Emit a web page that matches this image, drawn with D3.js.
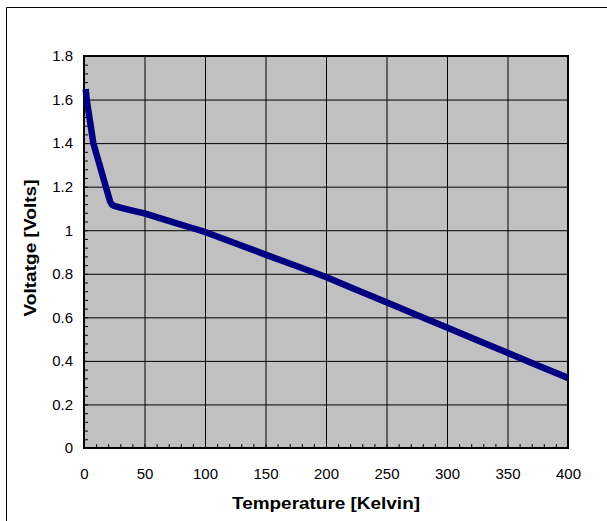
<!DOCTYPE html>
<html>
<head>
<meta charset="utf-8">
<script src="https://cdn.jsdelivr.net/npm/d3@7"></script>
<style>
  body { margin: 0; background: #fff; }
  svg text { font-family: "Liberation Sans", Arial, sans-serif; }
</style>
</head>
<body>
<div id="chart"></div>
<script>
var svgWidth = 607;
var svgHeight = 521;

var margin = { top: 56, right: 39, bottom: 73, left: 84 };

// Diode voltage
var temperature = [1.4, 2.2, 4, 6, 7.7, 10, 12, 14, 16, 18, 20, 21.5, 23, 25, 30, 40, 50, 60, 70, 80, 90, 100,
                   125, 150, 175, 200, 225, 250, 275, 300, 325, 350, 375, 400];
var voltage = [1.648, 1.6, 1.535, 1.462, 1.4, 1.355, 1.317, 1.278, 1.239, 1.2, 1.162, 1.133, 1.118, 1.112, 1.104, 1.09, 1.077, 1.06, 1.043, 1.026, 1.009, 0.992,
               0.94, 0.888, 0.837, 0.785, 0.727, 0.669, 0.611, 0.553, 0.495, 0.437, 0.379, 0.322];

var xTicks = [0, 50, 100, 150, 200, 250, 300, 350, 400];
var yTicks = [0, 0.2, 0.4, 0.6, 0.8, 1, 1.2, 1.4, 1.6, 1.8];

var width = svgWidth - margin.left - margin.right;
var height = svgHeight - margin.top - margin.bottom;

var svg = d3.select("#chart")
  .append("svg")
  .attr("width", svgWidth)
  .attr("height", svgHeight);

// outer chart frame (top and left edges visible)
svg.append("path")
  .attr("d", "M6.5,521 L6.5,7.5 L607,7.5")
  .attr("fill", "none")
  .attr("stroke", "#000")
  .attr("stroke-width", 1);

var chartGroup = svg.append("g")
  .attr("transform", `translate(${margin.left}, ${margin.top})`);

var xScale = d3.scaleLinear().domain([0, 400]).range([0, width]);
var yScale = d3.scaleLinear().domain([0, 1.8]).range([height, 0]);

chartGroup.append("rect")
  .attr("width", width)
  .attr("height", height)
  .attr("fill", "#c0c0c0");

// gridlines
chartGroup.append("g")
  .call(d3.axisBottom(xScale).tickValues(xTicks).tickSize(height).tickFormat(""))
  .call(g => g.select(".domain").remove())
  .call(g => g.selectAll("line").attr("stroke", "#000"));

chartGroup.append("g")
  .call(d3.axisLeft(yScale).tickValues(yTicks).tickSize(-width).tickFormat(""))
  .call(g => g.select(".domain").remove())
  .call(g => g.selectAll("line").attr("stroke", "#000"));

// minor ticks, pointing into the plot
chartGroup.append("g")
  .attr("transform", `translate(0, ${height})`)
  .call(d3.axisBottom(xScale).tickValues(d3.range(0, 401, 10)).tickSize(-4).tickFormat(""))
  .call(g => g.select(".domain").remove())
  .call(g => g.selectAll("line").attr("stroke", "#000"));

chartGroup.append("g")
  .call(d3.axisLeft(yScale).tickValues(d3.range(0, 1.801, 0.04)).tickSize(-4).tickFormat(""))
  .call(g => g.select(".domain").remove())
  .call(g => g.selectAll("line").attr("stroke", "#000"));

// plot frame
chartGroup.append("rect")
  .attr("width", width)
  .attr("height", height)
  .attr("fill", "none")
  .attr("stroke", "#000")
  .attr("stroke-width", 2);

// tick labels
chartGroup.append("g")
  .attr("transform", `translate(0, ${height})`)
  .call(d3.axisBottom(xScale).tickValues(xTicks).tickSize(0).tickPadding(20))
  .call(g => g.select(".domain").remove())
  .call(g => g.selectAll("text")
    .attr("font-family", "Liberation Sans, Arial, sans-serif")
    .attr("font-size", 15)
    .attr("fill", "#000"));

chartGroup.append("g")
  .call(d3.axisLeft(yScale).tickValues(yTicks).tickSize(0).tickPadding(11).tickFormat(d3.format("")))
  .call(g => g.select(".domain").remove())
  .call(g => g.selectAll("text")
    .attr("font-family", "Liberation Sans, Arial, sans-serif")
    .attr("font-size", 15)
    .attr("fill", "#000"));

// the curve
var points = temperature.map((t, i) => ({ t: t, v: voltage[i] }));

chartGroup.append("path")
  .datum(points)
  .attr("fill", "none")
  .attr("stroke", "#000080")
  .attr("stroke-width", 6.5)
  .attr("stroke-linejoin", "round")
  .attr("d", d3.line().x(d => xScale(d.t)).y(d => yScale(d.v)));

// axis titles
chartGroup.append("text")
  .attr("x", width / 2)
  .attr("y", height + 61)
  .attr("text-anchor", "middle")
  .attr("font-size", 17)
  .attr("font-weight", "bold")
  .attr("textLength", 188)
  .attr("lengthAdjust", "spacingAndGlyphs")
  .text("Temperature [Kelvin]");

chartGroup.append("text")
  .attr("transform", `translate(${-48.5}, ${192}) rotate(-90)`)
  .attr("text-anchor", "middle")
  .attr("font-size", 17)
  .attr("font-weight", "bold")
  .attr("textLength", 137)
  .attr("lengthAdjust", "spacingAndGlyphs")
  .text("Voltatge [Volts]");
</script>
</body>
</html>
